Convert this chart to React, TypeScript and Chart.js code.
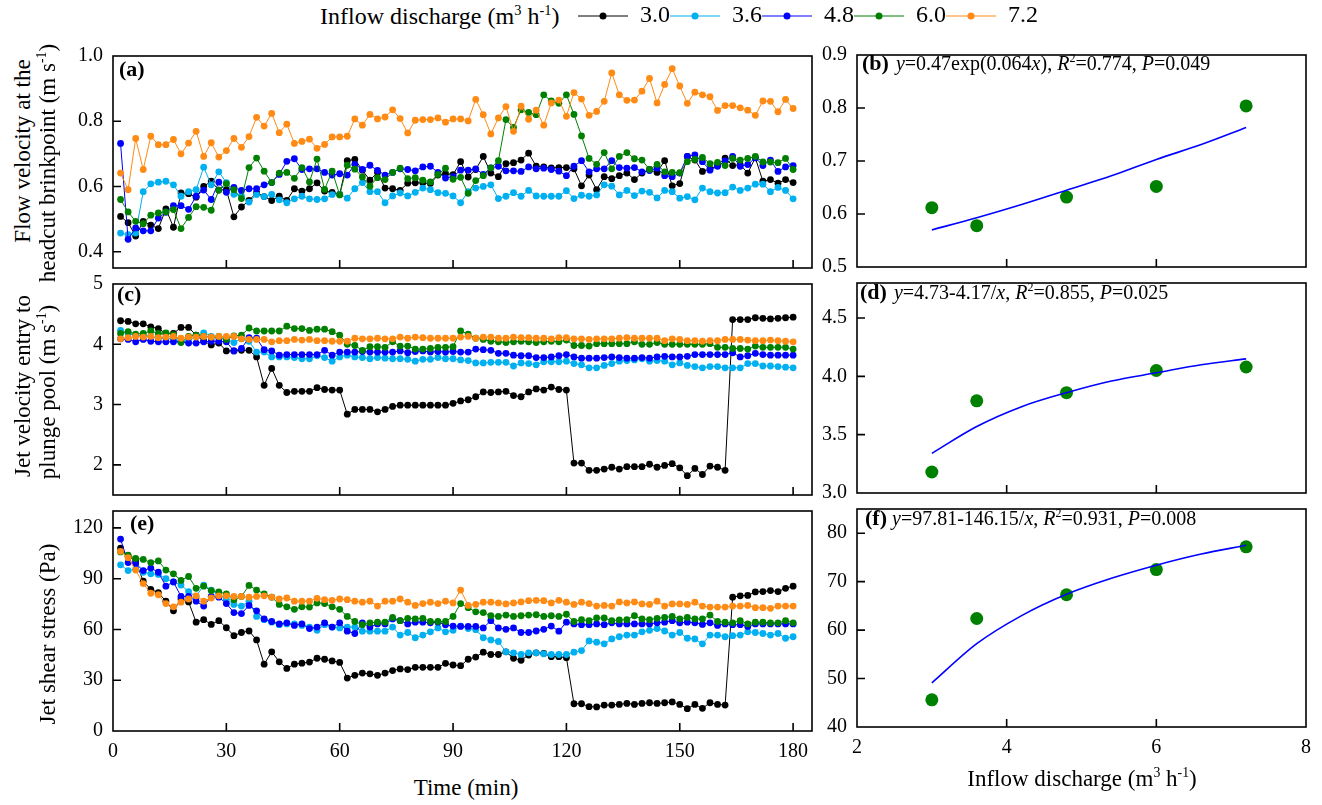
import React, { useEffect, useRef } from 'react';
import { Chart, registerables } from 'chart.js';
Chart.register(...registerables);

const FONT = '"Liberation Serif", "Times New Roman", Times, serif';
Chart.defaults.font.family = FONT;

// ---------- data ----------
const time = [2,4,6,8,10,12,14,16,18,20,22,24,26,28,30,32,34,36,38,40,42,44,46,48,50,52,54,56,58,60,62,64,66,68,70,72,74,76,78,80,82,84,86,88,90,92,94,96,98,100,102,104,106,108,110,112,114,116,118,120,122,124,126,128,130,132,134,136,138,140,142,144,146,148,150,152,154,156,158,160,162,164,166,168,170,172,174,176,178,180];

const seriesNames = ['3.0', '3.6', '4.8', '6.0', '7.2'];
const seriesColors = ['#000000', '#00B0F0', '#0000FF', '#008000', '#FF8A14'];

// (a) flow velocity at the headcut brinkpoint (m/s)
const brink30 = [0.508,0.489,0.448,0.493,0.481,0.471,0.531,0.475,0.580,0.578,0.567,0.600,0.616,0.589,0.590,0.507,0.537,0.557,0.581,0.569,0.557,0.570,0.557,0.593,0.586,0.593,0.611,0.586,0.582,0.576,0.679,0.683,0.650,0.619,0.643,0.595,0.593,0.588,0.610,0.611,0.611,0.609,0.635,0.639,0.636,
  0.676,0.629,0.652,0.692,0.641,0.630,0.670,0.673,0.681,0.702,0.662,0.660,0.657,0.658,0.658,0.654,0.602,0.635,0.590,0.630,0.624,0.633,0.641,0.621,0.641,0.652,0.643,0.679,0.602,0.609,0.692,0.681,0.646,0.654,0.664,0.687,0.664,0.667,0.641,0.688,0.616,0.621,0.610,0.621,0.612];
const brink36 = [0.457,0.452,0.457,0.584,0.608,0.613,0.616,0.605,0.570,0.584,0.590,0.659,0.605,0.645,0.612,0.576,0.571,0.552,0.575,0.569,0.576,0.559,0.550,0.562,0.570,0.562,0.560,0.562,0.575,0.576,0.564,0.593,0.612,0.584,0.584,0.550,0.571,0.580,0.571,0.582,0.595,0.590,0.581,0.579,0.571,
  0.550,0.584,0.595,0.600,0.605,0.563,0.570,0.581,0.570,0.588,0.571,0.570,0.570,0.570,0.587,0.563,0.573,0.570,0.574,0.605,0.601,0.574,0.588,0.572,0.586,0.582,0.565,0.588,0.584,0.564,0.569,0.559,0.595,0.584,0.580,0.581,0.598,0.588,0.595,0.607,0.607,0.584,0.597,0.588,0.562];
const brink48 = [0.732,0.438,0.473,0.464,0.464,0.503,0.521,0.541,0.541,0.530,0.570,0.589,0.560,0.613,0.582,0.597,0.588,0.593,0.593,0.605,0.612,0.637,0.677,0.685,0.652,0.654,0.654,0.643,0.635,0.639,0.635,0.668,0.652,0.665,0.649,0.635,0.643,0.654,0.652,0.648,0.660,0.662,0.643,0.626,0.630,
  0.650,0.650,0.654,0.637,0.657,0.662,0.648,0.648,0.646,0.660,0.654,0.656,0.652,0.647,0.633,0.662,0.679,0.645,0.654,0.654,0.679,0.658,0.656,0.658,0.645,0.649,0.656,0.633,0.630,0.641,0.692,0.697,0.676,0.650,0.662,0.678,0.692,0.662,0.667,0.688,0.664,0.681,0.646,0.660,0.664];
const brink60 = [0.560,0.522,0.493,0.486,0.512,0.519,0.522,0.529,0.471,0.505,0.538,0.536,0.527,0.589,0.609,0.590,0.563,0.658,0.687,0.647,0.612,0.641,0.643,0.625,0.658,0.614,0.684,0.591,0.647,0.574,0.665,0.653,0.629,0.601,0.627,0.621,0.643,0.656,0.624,0.627,0.619,0.614,0.637,0.656,0.622,
  0.628,0.579,0.618,0.633,0.657,0.679,0.805,0.781,0.835,0.827,0.820,0.881,0.862,0.855,0.881,0.821,0.755,0.686,0.668,0.704,0.654,0.692,0.704,0.685,0.681,0.652,0.668,0.645,0.643,0.642,0.676,0.683,0.689,0.670,0.674,0.664,0.686,0.681,0.686,0.692,0.675,0.675,0.673,0.686,0.652];
const brink72 = [0.641,0.590,0.747,0.652,0.754,0.728,0.728,0.744,0.700,0.733,0.769,0.692,0.734,0.690,0.710,0.747,0.720,0.753,0.812,0.785,0.824,0.765,0.791,0.732,0.738,0.745,0.717,0.729,0.752,0.752,0.754,0.807,0.788,0.821,0.807,0.813,0.835,0.808,0.764,0.803,0.805,0.805,0.810,0.797,0.807,
  0.807,0.801,0.867,0.820,0.761,0.810,0.845,0.769,0.846,0.806,0.834,0.788,0.856,0.865,0.815,0.888,0.868,0.818,0.830,0.861,0.948,0.881,0.864,0.865,0.892,0.931,0.856,0.913,0.961,0.908,0.855,0.889,0.881,0.875,0.833,0.848,0.848,0.841,0.834,0.818,0.862,0.861,0.829,0.867,0.839];

// (c) jet velocity entry to plunge pool (m/s)
const jetV30 = [4.39,4.38,4.34,4.34,4.29,4.26,4.18,4.18,4.28,4.28,4.15,4.05,3.99,4.02,3.89,3.89,3.90,3.90,3.79,3.32,3.60,3.32,3.20,3.22,3.22,3.22,3.28,3.25,3.24,3.24,2.84,2.92,2.92,2.92,2.88,2.92,2.97,2.99,2.99,2.99,2.99,2.99,2.99,2.99,3.02,
  3.06,3.08,3.13,3.21,3.20,3.21,3.22,3.15,3.13,3.21,3.26,3.24,3.29,3.25,3.24,2.03,2.03,1.91,1.91,1.93,1.96,1.93,1.97,1.97,1.97,2.01,1.96,1.99,2.02,1.95,1.82,1.94,1.84,1.98,1.96,1.91,4.41,4.41,4.41,4.44,4.43,4.42,4.43,4.44,4.45];
const jetV36 = [4.23,4.18,4.14,4.15,4.13,4.10,4.10,4.08,4.05,4.05,4.13,4.19,4.13,4.10,4.08,4.03,4.09,4.05,3.87,3.87,3.79,3.79,3.79,3.78,3.76,3.76,3.81,3.78,3.72,3.79,3.82,3.79,3.78,3.76,3.78,3.77,3.76,3.76,3.75,3.72,3.75,3.75,3.78,3.76,3.76,
  3.74,3.73,3.69,3.69,3.70,3.70,3.70,3.64,3.69,3.68,3.66,3.71,3.71,3.71,3.72,3.68,3.66,3.61,3.61,3.65,3.68,3.72,3.73,3.74,3.76,3.72,3.73,3.72,3.66,3.69,3.65,3.63,3.61,3.63,3.63,3.61,3.61,3.61,3.68,3.68,3.64,3.64,3.63,3.62,3.61];
const jetV48 = [4.09,4.08,4.04,4.08,4.05,4.04,4.04,4.04,4.04,4.02,4.02,4.04,4.05,4.05,4.04,3.89,3.93,4.11,4.10,3.91,3.89,3.82,3.83,3.83,3.83,3.83,3.83,3.90,3.82,3.87,3.87,3.87,3.88,3.87,3.87,3.87,3.87,3.89,3.86,3.88,3.89,3.87,3.88,3.87,3.88,
  3.87,3.87,3.92,3.91,3.90,3.85,3.85,3.82,3.81,3.81,3.78,3.78,3.79,3.81,3.83,3.79,3.77,3.77,3.77,3.78,3.79,3.78,3.77,3.77,3.78,3.77,3.79,3.80,3.79,3.79,3.80,3.83,3.83,3.83,3.83,3.83,3.86,3.79,3.81,3.85,3.83,3.82,3.82,3.82,3.82];
const jetV60 = [4.18,4.21,4.17,4.18,4.22,4.18,4.19,4.16,4.03,4.13,4.15,4.13,4.12,4.13,4.08,4.14,4.15,4.27,4.22,4.22,4.22,4.22,4.30,4.26,4.26,4.23,4.25,4.25,4.21,4.15,4.00,3.98,3.90,3.96,3.96,3.95,4.04,3.97,3.97,3.92,3.92,3.93,3.95,3.95,3.96,
  4.22,4.17,4.10,4.08,4.05,4.04,4.03,4.04,4.05,4.04,4.03,4.04,4.05,4.04,4.07,3.98,3.98,3.97,4.01,4.01,4.01,4.01,4.01,4.04,4.00,4.00,4.03,4.00,4.00,4.00,4.00,4.00,4.00,4.01,3.95,3.95,3.93,3.93,3.92,3.97,3.95,3.95,3.95,3.95,3.92];
const jetV72 = [4.09,4.11,4.13,4.12,4.13,4.11,4.12,4.13,4.10,4.12,4.12,4.13,4.12,4.13,4.13,4.13,4.09,4.08,4.08,4.08,4.04,4.06,4.06,4.08,4.07,4.08,4.06,4.06,4.05,4.05,4.05,4.10,4.09,4.09,4.10,4.09,4.09,4.12,4.10,4.12,4.11,4.10,4.10,4.10,4.10,
  4.12,4.13,4.10,4.12,4.12,4.10,4.10,4.12,4.11,4.11,4.10,4.10,4.09,4.11,4.11,4.09,4.09,4.08,4.09,4.09,4.09,4.10,4.11,4.10,4.10,4.10,4.10,4.06,4.09,4.08,4.06,4.06,4.05,4.06,4.06,4.08,4.08,4.08,4.07,4.06,4.06,4.07,4.06,4.05,4.04];

// (e) jet shear stress (Pa)
const shear30 = [108.1,103.3,100.5,88.5,83.7,81.8,76.7,71.0,78.0,76.3,64.3,65.8,63.0,65.2,61.0,56.3,58.2,59.1,53.8,39.5,46.8,40.9,37.0,39.5,40.1,40.7,43.0,42.4,41.4,40.5,31.3,32.9,34.2,33.8,32.9,34.2,35.7,36.7,36.3,37.6,37.6,37.6,37.6,40.0,39.0,
  38.6,42.4,43.7,46.6,45.2,45.2,46.8,43.0,41.8,44.9,46.2,45.8,43.9,43.9,43.3,16.1,16.1,14.4,14.2,15.3,15.3,15.7,16.3,15.7,16.3,16.7,16.3,16.7,17.2,15.7,13.2,15.7,13.4,16.7,15.7,15.3,79.1,79.9,80.1,82.2,82.4,83.0,82.4,84.3,85.6];
const shear36 = [98.2,94.8,95.7,93.8,92.9,92.5,90.0,88.1,86.2,82.4,79.5,86.2,83.3,80.5,78.0,74.8,73.8,76.7,67.7,65.8,64.3,62.8,63.3,63.3,62.4,61.4,59.5,62.8,61.4,60.9,61.4,61.4,59.0,59.0,59.0,59.0,61.4,56.7,58.2,55.1,56.7,58.6,60.9,58.6,59.5,
  62.0,60.5,59.9,55.1,53.8,52.9,46.8,46.2,45.2,46.2,46.2,45.6,45.2,45.2,45.2,46.6,47.5,53.2,52.5,51.5,54.4,55.7,56.7,56.7,58.6,59.5,60.5,59.1,56.7,58.2,54.8,54.4,51.5,56.7,56.7,55.7,56.3,56.7,58.6,58.2,57.6,56.7,57.6,54.8,55.7];
const shear48 = [113.4,99.5,99.0,94.8,96.3,93.8,85.6,88.1,79.5,79.5,76.7,73.8,79.5,79.1,75.3,70.0,69.4,74.2,71.0,66.2,64.7,63.3,63.9,62.4,63.3,60.5,61.4,63.9,61.4,63.9,59.0,57.6,63.9,61.4,63.3,63.3,66.2,65.2,63.3,64.3,64.3,63.9,64.3,62.8,62.0,
  61.8,61.8,61.8,60.9,65.2,60.9,60.1,60.9,58.2,58.2,59.1,60.1,62.0,59.0,64.3,63.3,62.8,62.8,63.3,62.8,63.9,63.3,63.3,63.3,63.3,63.3,63.9,64.3,65.2,63.9,64.3,63.9,63.0,63.9,62.4,63.3,62.8,62.8,61.8,63.3,63.3,63.3,63.3,63.3,63.3];
const shear60 = [105.8,103.9,102.0,101.4,99.5,100.5,95.1,92.9,89.0,91.3,84.3,85.6,83.0,82.2,81.0,77.6,79.5,86.0,83.3,81.0,79.1,74.8,73.4,71.9,73.4,73.2,75.7,75.3,73.4,71.9,67.7,64.7,62.8,63.9,64.3,64.3,67.1,65.2,66.6,66.2,66.6,64.7,64.7,64.7,67.7,
  75.3,72.9,70.4,70.0,68.1,67.7,68.5,67.7,68.1,68.5,68.7,67.7,68.1,67.7,69.0,64.7,65.8,65.2,66.8,66.8,65.2,65.6,65.8,68.1,66.2,65.8,66.6,67.1,67.7,66.2,67.1,66.2,66.2,68.5,64.7,64.3,63.9,65.2,63.3,64.3,64.3,63.9,63.9,65.2,63.9];
const shear72 = [106.2,102.4,95.1,87.1,81.4,80.5,75.3,73.4,76.1,78.0,79.9,76.7,78.6,79.9,79.9,79.5,79.5,79.1,79.5,79.9,79.1,78.0,78.6,76.7,76.7,76.7,78.4,77.6,77.2,78.0,77.6,76.7,76.1,76.7,73.8,76.7,76.7,78.0,76.1,74.2,75.3,76.1,75.3,76.7,75.7,
  83.3,74.2,74.8,76.1,76.1,75.7,75.1,75.7,76.3,77.0,77.2,77.0,75.7,77.2,76.1,74.8,76.1,75.3,73.8,74.2,73.8,76.3,75.7,76.3,75.1,74.8,76.7,73.8,75.1,75.1,74.8,76.1,73.8,73.2,73.2,73.2,73.8,73.8,74.2,72.9,72.9,72.5,73.8,73.8,73.8];

// right panels: means vs inflow discharge
const discharge = [3.0, 3.6, 4.8, 6.0, 7.2];
const meanBrink = [0.612, 0.578, 0.632, 0.652, 0.804];
const meanJetV = [3.18, 3.79, 3.86, 4.05, 4.08];
const meanShear = [45.6, 62.4, 67.3, 72.5, 77.2];
const fitX = [3.0, 3.6, 4.2, 4.8, 5.4, 6.0, 6.6, 7.2];
const fitBrink = [0.570, 0.593, 0.618, 0.645, 0.672, 0.703, 0.731, 0.763];
const fitJetV = [3.34, 3.57, 3.74, 3.86, 3.96, 4.03, 4.10, 4.15];
const fitShear = [49.1, 57.2, 63.0, 67.4, 70.7, 73.4, 75.7, 77.5];

// tick values
const timeTicks = [0, 30, 60, 90, 120, 150, 180];
const brinkTicks = [0.4, 0.6, 0.8, 1.0];
const jetVTicks = [2, 3, 4, 5];
const shearTicks = [0, 30, 60, 90, 120];
const dischargeTicks = [2, 4, 6, 8];
const meanBrinkTicks = [0.5, 0.6, 0.7, 0.8, 0.9];
const meanJetVTicks = [3.0, 3.5, 4.0, 4.5];
const meanShearTicks = [40, 50, 60, 70, 80];

// ---------- helpers ----------
interface AxisSpec { min: number; max: number; ticks: number[]; dec: number; labels: boolean; }

function axis(spec: AxisSpec, isX: boolean, size: number): any {
  return {
    type: 'linear',
    position: isX ? 'bottom' : 'left',
    min: spec.min,
    max: spec.max,
    grid: { display: false, drawTicks: false },
    border: { display: false },
    ticks: {
      display: spec.labels,
      autoSkip: false,
      maxRotation: 0,
      padding: isX ? 9 : 10,
      color: '#000',
      font: { family: FONT, size: 20 },
      callback: (v: any) => Number(v).toFixed(spec.dec),
    },
    afterBuildTicks: (s: any) => { s.ticks = spec.ticks.map((v) => ({ value: v })); },
    afterFit: (s: any) => { if (isX) s.height = size; else s.width = size; },
  };
}

const framePlugin = {
  id: 'frame',
  afterDatasetsDraw(chart: any) {
    const { ctx, chartArea } = chart;
    const { left, right, top, bottom } = chartArea;
    ctx.save();
    ctx.strokeStyle = '#000';
    ctx.lineWidth = 1.6;
    ctx.strokeRect(left, top, right - left, bottom - top);
    const xs = chart.scales.x;
    const ys = chart.scales.y;
    ctx.beginPath();
    xs.ticks.forEach((t: any) => {
      const p = xs.getPixelForValue(t.value);
      if (p > left + 2 && p < right - 2) { ctx.moveTo(p, bottom); ctx.lineTo(p, bottom - 8); }
    });
    ys.ticks.forEach((t: any) => {
      const p = ys.getPixelForValue(t.value);
      if (p > top + 2 && p < bottom - 2) { ctx.moveTo(left, p); ctx.lineTo(left + 8, p); }
    });
    ctx.stroke();
    ctx.restore();
  },
};

interface PanelSpec {
  l: number; t: number; r: number; b: number;
  pl: number; pr: number; pt: number; pb: number;
  x: AxisSpec; y: AxisSpec; datasets: any[];
}

function Panel({ spec }: { spec: PanelSpec }) {
  const ref = useRef<HTMLCanvasElement>(null);
  const W = spec.r - spec.l + spec.pl + spec.pr;
  const H = spec.b - spec.t + spec.pt + spec.pb;
  useEffect(() => {
    const chart = new Chart(ref.current as HTMLCanvasElement, {
      type: 'line',
      data: { datasets: spec.datasets },
      options: {
        animation: false,
        responsive: false,
        devicePixelRatio: 1,
        events: [],
        layout: { padding: { left: 0, right: spec.pr, top: spec.pt, bottom: 0 } },
        scales: { x: axis(spec.x, true, spec.pb), y: axis(spec.y, false, spec.pl) },
        plugins: { legend: { display: false }, tooltip: { enabled: false } },
      } as any,
      plugins: [framePlugin],
    });
    return () => chart.destroy();
  }, []);
  return (
    <canvas ref={ref} width={W} height={H}
      style={{ position: 'absolute', left: spec.l - spec.pl, top: spec.t - spec.pt, width: W, height: H }} />
  );
}

function timeSeries(values: number[][]): any[] {
  return values.map((vals, i) => ({
    label: seriesNames[i],
    data: time.map((t, k) => ({ x: t, y: vals[k] })),
    borderColor: seriesColors[i],
    backgroundColor: seriesColors[i],
    pointBackgroundColor: seriesColors[i],
    pointBorderWidth: 0,
    pointRadius: 3.4,
    borderWidth: 1,
    tension: 0,
    order: 5 - i,
  }));
}

function meanSeries(means: number[], fit: number[]): any[] {
  return [
    {
      label: 'fit',
      data: fitX.map((x, k) => ({ x, y: fit[k] })),
      borderColor: '#0000FF',
      borderWidth: 1.6,
      pointRadius: 0,
      tension: 0.4,
      cubicInterpolationMode: 'monotone',
      order: 0,
    },
    {
      label: 'mean',
      data: discharge.map((x, k) => ({ x, y: means[k] })),
      showLine: false,
      pointRadius: 6.5,
      pointBackgroundColor: '#008000',
      pointBorderColor: '#008000',
      pointBorderWidth: 0,
      order: 1,
    },
  ];
}

function LegendChart() {
  const ref = useRef<HTMLCanvasElement>(null);
  useEffect(() => {
    const marker = (color: string) => {
      const c = document.createElement('canvas');
      c.width = 50; c.height = 12;
      const g = c.getContext('2d') as CanvasRenderingContext2D;
      g.strokeStyle = color; g.lineWidth = 1;
      g.beginPath(); g.moveTo(0, 6); g.lineTo(50, 6); g.stroke();
      g.fillStyle = color;
      g.beginPath(); g.arc(25, 6, 3.5, 0, Math.PI * 2); g.fill();
      return c;
    };
    const items = seriesNames.map((n, i) => ({
      text: n, fillStyle: seriesColors[i], strokeStyle: seriesColors[i], lineWidth: 0,
      pointStyle: marker(seriesColors[i]), hidden: false, datasetIndex: i, fontColor: '#000',
    }));
    const chart = new Chart(ref.current as HTMLCanvasElement, {
      type: 'line',
      data: { datasets: seriesNames.map((n, i) => ({ label: n, data: [], borderColor: seriesColors[i] })) },
      options: {
        animation: false,
        responsive: false,
        devicePixelRatio: 1,
        events: [],
        layout: { padding: 0 },
        scales: { x: { display: false }, y: { display: false } },
        plugins: {
          tooltip: { enabled: false },
          legend: {
            display: true, position: 'top', align: 'start',
            labels: {
              usePointStyle: true, pointStyleWidth: 50, padding: 0,
              font: { family: FONT, size: 24 }, color: '#000',
              generateLabels: () => items,
            },
          },
        },
      } as any,
    });
    return () => chart.destroy();
  }, []);
  return <canvas ref={ref} width={480} height={60} style={{ position: 'absolute', left: 578, top: 4, width: 480, height: 60 }} />;
}

const Sup = ({ children }: { children: React.ReactNode }) => (
  <span style={{ fontSize: '0.6em', position: 'relative', top: '-0.65em' }}>{children}</span>
);

function Txt({ x, y, size = 22, bold = false, rotate = false, center = false, children }: any) {
  const transform = rotate
    ? 'translate(-50%,-50%) rotate(-90deg)'
    : center ? 'translate(-50%,-50%)' : 'translateY(-50%)';
  return (
    <div style={{
      position: 'absolute', left: x, top: y, fontFamily: FONT, fontSize: size,
      fontWeight: bold ? 'bold' : 'normal', lineHeight: 1, whiteSpace: 'nowrap', color: '#000', transform,
    }}>{children}</div>
  );
}

// ---------- layout ----------
const LEFT = { l: 113, r: 812, pl: 60, pr: 12 };
const RIGHT = { l: 857, r: 1306, pl: 50, pr: 14 };

const panels: PanelSpec[] = [
  { ...LEFT, t: 48, b: 276, pt: 14, pb: 14,
    x: { min: 0, max: 185, ticks: timeTicks, dec: 0, labels: false },
    y: { min: 0.35, max: 1.0, ticks: brinkTicks, dec: 1, labels: true },
    datasets: timeSeries([brink30, brink36, brink48, brink60, brink72]) },
  { ...LEFT, t: 276, b: 503, pt: 14, pb: 14,
    x: { min: 0, max: 185, ticks: timeTicks, dec: 0, labels: false },
    y: { min: 1.5, max: 5, ticks: jetVTicks, dec: 0, labels: true },
    datasets: timeSeries([jetV30, jetV36, jetV48, jetV60, jetV72]) },
  { ...LEFT, t: 503, b: 731, pt: 14, pb: 40,
    x: { min: 0, max: 185, ticks: timeTicks, dec: 0, labels: true },
    y: { min: 0, max: 130, ticks: shearTicks, dec: 0, labels: true },
    datasets: timeSeries([shear30, shear36, shear48, shear60, shear72]) },
  { ...RIGHT, t: 47, b: 275, pt: 14, pb: 14,
    x: { min: 2, max: 8, ticks: dischargeTicks, dec: 0, labels: false },
    y: { min: 0.5, max: 0.9, ticks: meanBrinkTicks, dec: 1, labels: true },
    datasets: meanSeries(meanBrink, fitBrink) },
  { ...RIGHT, t: 275, b: 501, pt: 14, pb: 14,
    x: { min: 2, max: 8, ticks: dischargeTicks, dec: 0, labels: false },
    y: { min: 3.0, max: 4.8, ticks: meanJetVTicks, dec: 1, labels: true },
    datasets: meanSeries(meanJetV, fitJetV) },
  { ...RIGHT, t: 501, b: 727, pt: 14, pb: 40,
    x: { min: 2, max: 8, ticks: dischargeTicks, dec: 0, labels: true },
    y: { min: 40, max: 85, ticks: meanShearTicks, dec: 0, labels: true },
    datasets: meanSeries(meanShear, fitShear) },
];

export default function App() {
  return (
    <div style={{ position: 'absolute', left: 0, top: 0, width: 1322, height: 805, background: '#fff', overflow: 'hidden' }}>
      {panels.map((p, i) => <Panel key={i} spec={p} />)}
      <LegendChart />
      <Txt x={320} y={16} size={24}>Inflow discharge (m<Sup>3</Sup> h<Sup>-1</Sup>)</Txt>

      <Txt x={22} y={151} rotate size={23}>Flow velocity at the</Txt>
      <Txt x={47} y={163} rotate size={23}>headcut brinkpoint (m s<Sup>-1</Sup>)</Txt>
      <Txt x={22} y={386} rotate size={23}>Jet velocity entry to</Txt>
      <Txt x={47} y={392} rotate size={23}>plunge pool (m s<Sup>-1</Sup>)</Txt>
      <Txt x={47} y={634} rotate size={23}>Jet shear stress (Pa)</Txt>

      <Txt x={466} y={787} center size={23}>Time (min)</Txt>
      <Txt x={1082} y={778} center size={23}>Inflow discharge (m<Sup>3</Sup> h<Sup>-1</Sup>)</Txt>

      <Txt x={119} y={69} bold size={22}>(a)</Txt>
      <Txt x={117} y={294} bold size={22}>(c)</Txt>
      <Txt x={130} y={523} bold size={22}>(e)</Txt>

      <Txt x={862} y={63} size={20}><b style={{ fontSize: 22 }}>(b)</b><span style={{ marginLeft: 7 }}><i>y</i>=0.47exp(0.064<i>x</i>), <i>R</i><Sup>2</Sup>=0.774, <i>P</i>=0.049</span></Txt>
      <Txt x={860} y={292} size={20}><b style={{ fontSize: 22 }}>(d)</b><span style={{ marginLeft: 7 }}><i>y</i>=4.73-4.17/<i>x</i>, <i>R</i><Sup>2</Sup>=0.855, <i>P</i>=0.025</span></Txt>
      <Txt x={865} y={518} size={20}><b style={{ fontSize: 22 }}>(f)</b><span style={{ marginLeft: 5 }}><i>y</i>=97.81-146.15/<i>x</i>, <i>R</i><Sup>2</Sup>=0.931, <i>P</i>=0.008</span></Txt>
    </div>
  );
}
